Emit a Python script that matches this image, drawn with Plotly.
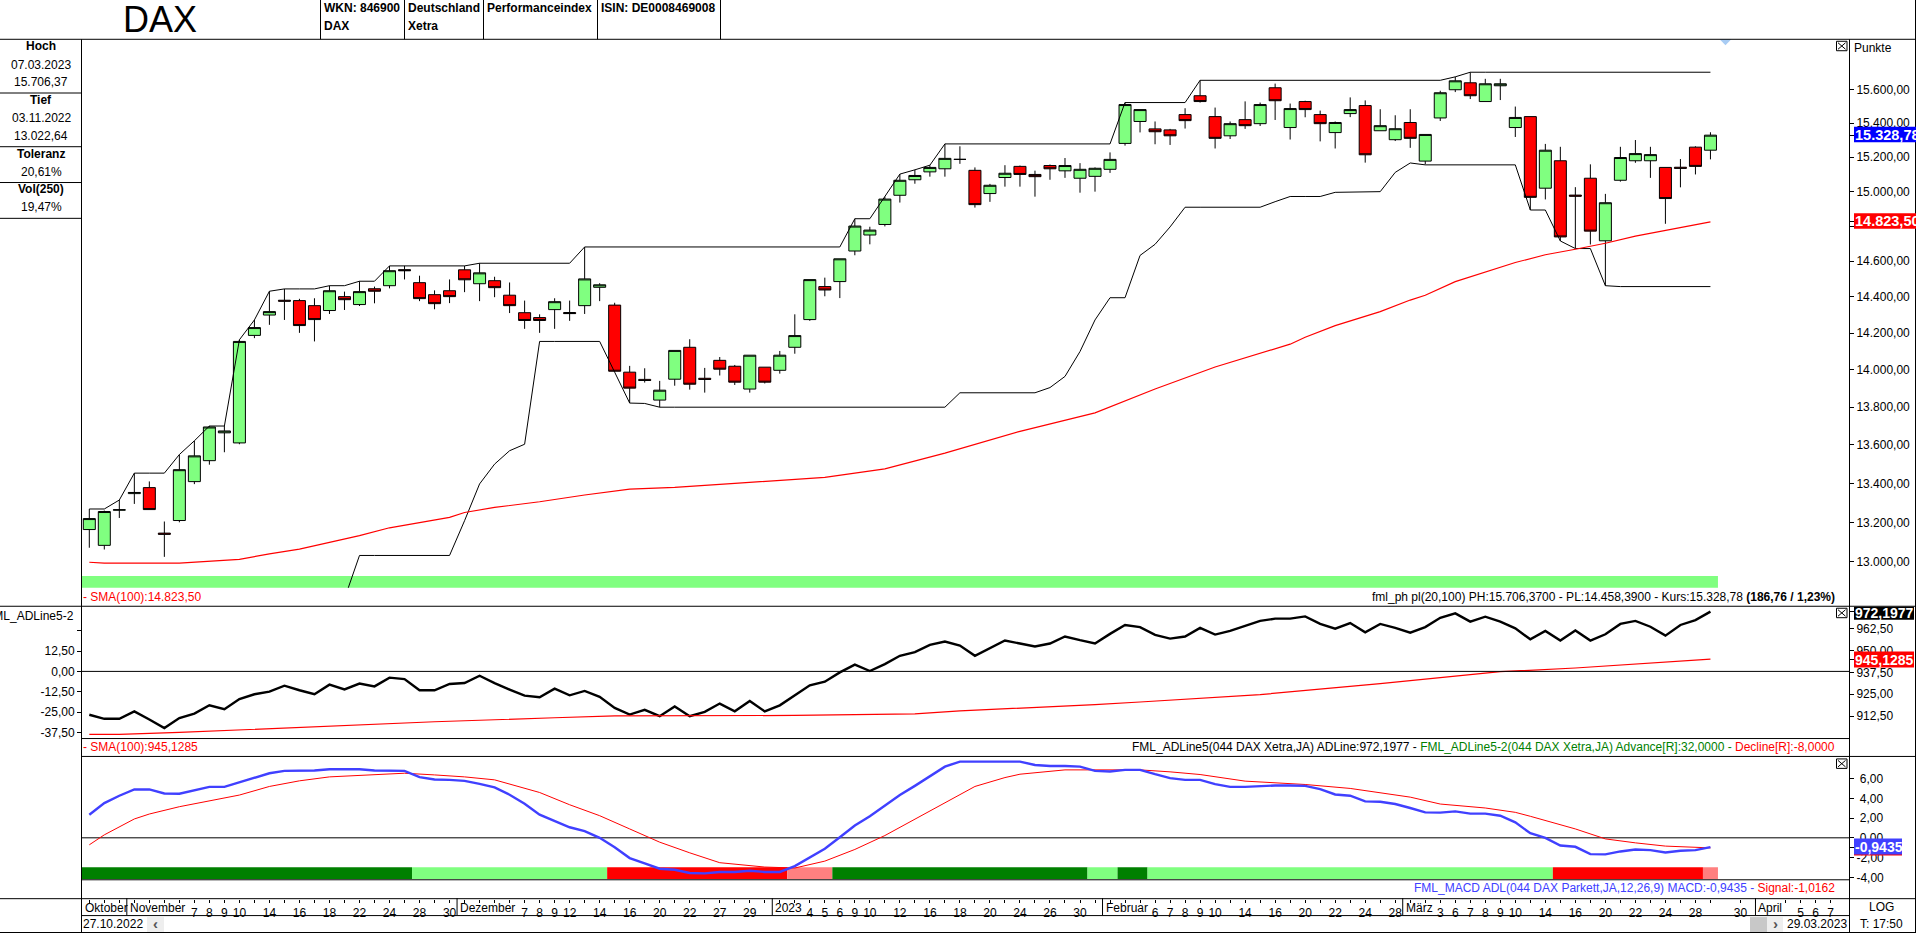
import plotly.graph_objects as go
import math

W, H = 1916, 938
FONT = "Liberation Sans, Arial, sans-serif"

# ---------- data ----------
opens = [13163,13083,13262,13347,13378,13145,13209,13409,13518,13664,13611,14188,14300,14382,14380,14352,14325,14402,14358,14446,
         14463,14553,14480,14413,14435,14552,14474,14491,14410,14313,14286,14330,14314,14352,14454,14355,13988,13949,13838,13950,
         14123,13955,14052,14020,13897,14015,13998,14123,14275,14458,14486,14658,14749,14809,14977,15067,15113,15131,15186,15122,
         14987,15080,15145,15098,15150,15119,15076,15087,15128,15280,15410,15366,15360,15451,15564,15439,15325,15421,15397,15612,
         15374,15529,15451,15344,15457,15505,15355,15302,15404,15176,15431,15600,15642,15529,15624,15374,15439,15018,15178,14978,
         15076,14716,15064,15178,15178,15139,15140,15258,15240]
highs = [13268,13260,13314,13453,13410,13204,13550,13622,13700,13700,14164,14273,14432,14445,14390,14393,14463,14430,14488,14458,
         14574,14574,14519,14437,14498,14574,14589,14513,14481,14380,14304,14393,14380,14681,14477,14368,14022,14009,13941,14106,
         14167,14011,14070,14027,14080,14015,14103,14304,14497,14508,14614,14842,14796,14970,15100,15125,15152,15277,15263,15139,
         15043,15152,15150,15120,15156,15194,15164,15139,15227,15523,15481,15410,15366,15489,15657,15493,15410,15530,15523,15637,
         15517,15534,15475,15410,15554,15536,15483,15447,15483,15333,15594,15678,15706,15666,15666,15499,15439,15277,15260,15024,
         15157,14985,15260,15300,15260,15139,15188,15263,15346]
lows = [13071,13062,13222,13294,13265,13025,13200,13396,13497,13562,13604,14173,14246,14273,14202,14155,14306,14328,14350,14365,
        14448,14498,14377,14332,14366,14427,14377,14399,14311,14224,14202,14224,14268,14306,14377,13993,13822,13932,13800,13915,
        13894,13878,13970,13919,13878,13927,13980,14088,14268,14404,14394,14634,14696,14798,14935,15044,15085,15085,15160,14906,
        14939,15027,15027,14969,15067,15078,14992,14998,15107,15267,15345,15275,15271,15368,15523,15250,15306,15366,15383,15419,
        15303,15435,15292,15250,15436,15167,15355,15294,15254,15157,15413,15586,15544,15529,15538,15318,14892,14953,14715,14672,
        14695,14463,15056,15166,15078,14813,15023,15098,15186]
closes = [13219,13255,13264,13353,13265,13139,13471,13543,13695,13674,14155,14231,14319,14377,14242,14275,14435,14385,14430,14432,
          14547,14547,14391,14363,14402,14496,14535,14452,14352,14270,14270,14374,14308,14501,14468,13993,13902,13943,13891,14106,
          13923,13949,14004,13934,14080,13934,14080,14187,14497,14439,14614,14800,14777,14955,15064,15092,15139,15192,15186,14923,
          15035,15105,15098,15085,15131,15150,15128,15134,15186,15511,15481,15349,15325,15415,15529,15310,15397,15385,15511,15534,
          15487,15481,15397,15404,15481,15213,15385,15367,15310,15333,15582,15654,15564,15636,15636,15434,14965,15240,14738,14972,
          14771,14934,15197,15220,15214,14958,15134,15145,15328.78]

upper_band = [13268,13268,13314,13453,13453,13453,13550,13622,13700,13700,14164,14273,14432,14445,14445,14445,14463,14463,14488,14488,
              14574,14574,14574,14574,14574,14574,14589,14589,14589,14589,14589,14589,14589,14681,14681,14681,14681,14681,14681,14681,
              14681,14681,14681,14681,14681,14681,14681,14681,14681,14681,14681,14842,14842,14970,15100,15125,15152,15277,15277,15277,
              15277,15277,15277,15277,15277,15277,15277,15277,15277,15523,15523,15523,15523,15523,15657,15657,15657,15657,15657,15657,
              15657,15657,15657,15657,15657,15657,15657,15657,15657,15657,15657,15678,15706,15706,15706,15706,15706,15706,15706,15706,
              15706,15706,15706,15706,15706,15706,15706,15706,15706]
lower_idx = list(range(17, 109))
lower_band = [12816,13032,13032,13032,13032,13032,13032,13032,13208,13397,13500,13570,13604,14155,14155,14155,14155,14155,13988,13822,
              13820,13800,13800,13800,13800,13800,13800,13800,13800,13800,13800,13800,13800,13800,13800,13800,13800,13800,13800,13800,
              13800,13877,13877,13877,13877,13877,13877,13905,13965,14100,14273,14396,14396,14633,14696,14795,14908,14908,14908,14908,
              14908,14908,14940,14970,14970,14970,14994,14996,14996,14998,15110,15165,15154,15154,15154,15154,15154,15154,15154,14892,
              14892,14715,14672,14672,14463,14458,14458,14458,14458,14458,14458,14458]
sma_idx = [0,1,6,10,12,14,18,20,24,25,27,30,33,36,39,41,43,49,53,57,62,67,71,75,80,81,83,86,88,89,91,95,97,99,101,103,105,108]
sma_val = [12998,12993,12993,13012,13040,13064,13132,13172,13225,13250,13276,13305,13340,13370,13379,13388,13400,13431,13475,13557,
           13672,13770,13897,14016,14140,14178,14242,14319,14383,14410,14486,14593,14637,14668,14702,14743,14775,14823.5]

adline = [913.3,911.0,911.0,915.2,910.6,905.7,911.4,914.0,918.7,916.5,922.3,925.0,926.5,929.9,927.3,925.0,930.5,927.8,931.1,929.5,
          934.5,933.7,927.3,927.3,930.9,931.4,935.6,931.4,927.7,924.2,923.3,928.2,924.4,926.9,923.5,917.2,913.4,916.1,912.5,918.0,
          912.5,915.0,919.7,915.3,921.2,915.2,918.7,924.6,930.1,932.2,937.5,941.9,938.3,942.2,947.0,949.1,953.2,955.1,952.8,947.0,
          951.3,955.7,954.0,952.3,954.0,958.0,955.9,954.0,959.5,964.6,963.4,958.9,956.8,958.0,962.9,959.1,961.2,964.0,966.9,968.2,
          968.2,969.5,965.2,962.5,965.7,960.4,965.2,962.9,960.2,963.4,968.7,971.2,966.5,969.3,966.5,962.7,956.4,961.2,955.7,961.4,
          955.7,959.3,965.2,966.9,963.6,958.5,964.6,967.4,972.2]
ad_sma_idx = [0,2,6,14,23,31,35,47,51,55,58,62,67,70,78,86,90,94,99,108]
ad_sma_val = [902.1,902.1,903.2,906.2,909.3,911.6,912.7,912.9,913.3,913.8,915.5,917.0,919.1,920.6,924.8,931.1,934.7,937.9,940.0,945.1]

macd = [2.34,3.52,4.26,4.90,4.90,4.49,4.46,4.79,5.16,5.16,5.60,6.07,6.54,6.78,6.81,6.81,6.94,6.94,6.94,6.81,
        6.81,6.78,6.14,5.90,5.87,5.77,5.47,5.10,4.36,3.45,2.34,1.74,1.07,0.67,0.0,-0.95,-2.05,-2.59,-3.13,-3.23,
        -3.56,-3.60,-3.46,-3.46,-3.33,-3.46,-3.46,-2.86,-1.99,-1.11,0.06,1.24,2.18,3.25,4.33,5.26,6.27,7.21,7.72,7.72,
        7.72,7.72,7.72,7.38,7.28,7.28,7.21,6.78,6.71,6.88,6.88,6.44,6.04,5.87,5.87,5.43,5.16,5.16,5.26,5.30,
        5.30,5.26,4.93,4.39,4.26,3.69,3.65,3.42,3.02,2.58,2.55,2.68,2.45,2.45,2.24,1.57,0.46,0.0,-0.78,-0.91,
        -1.65,-1.68,-1.38,-1.18,-1.25,-1.48,-1.31,-1.25,-0.94]
signal_idx = [0,1,3,4,6,10,12,14,16,18,21,23,25,27,30,32,34,36,38,40,42,45,47,49,51,53,55,58,59,61,62,65,67,70,72,74,77,81,84,86,88,90,93,95,96,99,101,103,105,108]
signal_val = [-0.71,0.30,1.91,2.41,3.15,4.33,5.20,5.77,6.17,6.34,6.54,6.37,6.17,5.87,4.59,3.35,2.24,0.90,-0.44,-1.52,-2.52,-2.96,-3.06,-2.36,-1.18,0.23,1.91,4.36,
              5.20,6.10,6.44,6.88,6.88,6.88,6.68,6.41,5.74,5.40,5.00,4.59,4.12,3.42,3.02,2.58,2.18,0.90,-0.11,-0.51,-0.84,-1.02]

regime_colors = ["#008000","#80FF80","#FF0000","#FF8080","#008000","#80FF80","#008000","#80FF80","#FF0000","#FF8080"]
regime_runs = [22,13,12,3,17,2,2,27,10,1]

price_ticks = [15600,15400,15200,15000,14800,14600,14400,14200,14000,13800,13600,13400,13200,13000,15328.78,14823.50]
price_labels = ["15.600,00","15.400,00","15.200,00","15.000,00","","14.600,00","14.400,00","14.200,00","14.000,00",
                "13.800,00","13.600,00","13.400,00","13.200,00","13.000,00","",""]
ad_ticks = [962.5,950,937.5,925,912.5,972.1977,945.1285]
ad_labels = ["962,50","950,00","937,50","925,00","912,50","",""]
adv_ticks = [25,12.5,0,-12.5,-25,-37.5]
adv_labels = ["","12,50","0,00","-12,50","-25,00","-37,50"]
macd_ticks = [6,4,2,0,-2,-4,-0.9435]
macd_labels = ["\u00a06,00","\u00a04,00","\u00a02,00","\u00a00,00","-2,00","-4,00",""]

day_label_idx = [7,8,9,10,12,14,16,18,20,22,24,29,30,31,32,34,36,38,40,42,44,48,49,50,51,52,54,56,58,60,62,64,66,
                 71,72,73,74,75,77,79,81,83,85,87,90,91,92,93,94,95,97,99,101,103,105,107,110,114,115,116]
day_labels = ["7","8","9","10","14","16","18","22","24","28","30","7","8","9","12","14","16","20","22","27","29","4","5","6","9","10","12","16","18","20","24","26","30",
              "6","7","8","9","10","14","16","20","22","24","28","3","6","7","8","9","10","14","16","20","22","24","28","30","5","6","7"]
day_tick_idx = list(range(0, 109)) + [110, 111, 113, 114, 115, 116]
month_names = ["November","Dezember","2023","Februar","März","April"]
month_idx = [2.5,24.5,45.5,67.5,87.5,111]

n = len(closes)
xs = list(range(n))
label_by_idx = dict(zip(day_label_idx, day_labels))

# ---------- helpers ----------
def px(x): return x / W
def py(y): return 1 - y / H

shapes, annos = [], []
def line(x0, y0, x1, y1, color="black", width=1):
    shapes.append(dict(type="line", xref="paper", yref="paper", x0=px(x0), x1=px(x1), y0=py(y0), y1=py(y1),
                       line=dict(color=color, width=width), layer="above"))
def rect(x0, y0, x1, y1, fill, lcolor=None, lw=0):
    shapes.append(dict(type="rect", xref="paper", yref="paper", x0=px(x0), x1=px(x1), y0=py(y0), y1=py(y1),
                       fillcolor=fill, line=dict(color=lcolor or fill, width=lw), layer="above"))
def text(x, y, s, anchor="left", size=12, color="black", bold=False):
    annos.append(dict(xref="paper", yref="paper", x=px(x), y=py(y), text=f"<b>{s}</b>" if bold else s,
                      xanchor=anchor, yanchor="middle", showarrow=False, borderpad=0, borderwidth=0,
                      font=dict(family=FONT, size=size, color=color)))
def closebox(x0, y0):
    rect(x0, y0, x0 + 10.5, y0 + 9.5, "white", "black", 1)
    line(x0 + 1.5, y0 + 1.5, x0 + 9, y0 + 8, "black", 1)
    line(x0 + 9, y0 + 1.5, x0 + 1.5, y0 + 8, "black", 1)

# ---------- traces ----------
fig = go.Figure()
fig.add_trace(go.Candlestick(x=xs, open=opens, high=highs, low=lows, close=closes, xaxis="x", yaxis="y",
                             increasing=dict(fillcolor="#80FF80", line=dict(color="black", width=1)),
                             decreasing=dict(fillcolor="#FF0000", line=dict(color="black", width=1)),
                             whiskerwidth=0, showlegend=False, hoverinfo="skip"))
fig.add_trace(go.Scatter(x=xs, y=upper_band, mode="lines", line=dict(color="black", width=1), yaxis="y", xaxis="x", showlegend=False, hoverinfo="skip"))
fig.add_trace(go.Scatter(x=lower_idx, y=lower_band, mode="lines", line=dict(color="black", width=1), yaxis="y", xaxis="x", showlegend=False, hoverinfo="skip"))
fig.add_trace(go.Scatter(x=sma_idx, y=sma_val, mode="lines", line=dict(color="#FF0000", width=1.2), yaxis="y", xaxis="x", showlegend=False, hoverinfo="skip"))
fig.add_trace(go.Scatter(x=[109], y=[15907], mode="markers", marker=dict(symbol="diamond", size=9, color="#A8CCF4"), yaxis="y", xaxis="x", showlegend=False, hoverinfo="skip"))

fig.add_trace(go.Scatter(x=[-1, 118], y=[0, 0], mode="lines", line=dict(color="black", width=1), yaxis="y3", xaxis="x", showlegend=False, hoverinfo="skip"))
fig.add_trace(go.Scatter(x=xs, y=adline, mode="lines", line=dict(color="black", width=2.4), yaxis="y2", xaxis="x", showlegend=False, hoverinfo="skip"))
fig.add_trace(go.Scatter(x=ad_sma_idx, y=ad_sma_val, mode="lines", line=dict(color="#FF0000", width=1.2), yaxis="y2", xaxis="x", showlegend=False, hoverinfo="skip"))

run_centers, pos = [], 0
for r in regime_runs:
    run_centers.append(pos + (r - 1) / 2)
    pos += r
fig.add_trace(go.Bar(x=run_centers, y=[1.22] * len(regime_runs), base=-4.2, width=regime_runs,
                     marker=dict(color=regime_colors, line=dict(width=0)),
                     yaxis="y4", xaxis="x", showlegend=False, hoverinfo="skip"))
fig.add_trace(go.Scatter(x=[-1, 118], y=[0, 0], mode="lines", line=dict(color="black", width=1), yaxis="y4", xaxis="x", showlegend=False, hoverinfo="skip"))
fig.add_trace(go.Scatter(x=signal_idx, y=signal_val, mode="lines", line=dict(color="#FF0000", width=1), yaxis="y4", xaxis="x", showlegend=False, hoverinfo="skip"))
fig.add_trace(go.Scatter(x=xs, y=macd, mode="lines", line=dict(color="#4040FF", width=2.4), yaxis="y4", xaxis="x", showlegend=False, hoverinfo="skip"))

# top green strip (one rectangle on the shared x scale)
shapes.append(dict(type="rect", xref="x", yref="paper", x0=-0.5, x1=108.5, y0=py(591), y1=py(579),
                   fillcolor="#80FF80", line=dict(width=0), layer="below"))
# month separators on the date band
for m in month_idx:
    shapes.append(dict(type="line", xref="x", yref="paper", x0=m, x1=m, y0=py(903), y1=py(920),
                       line=dict(color="black", width=1), layer="above"))

# ---------- frame ----------
line(0, 39.5, 1916, 39.5)
line(0, 609.5, 1916, 609.5)
line(82, 742.5, 1849, 742.5)
line(82, 760.5, 1916, 760.5)
line(82, 884.5, 1849, 884.5)
line(0, 903.5, 1916, 903.5)
line(82, 920.5, 1849, 920.5)
line(0, 937.5, 1916, 937.5)
line(81.5, 39.5, 81.5, 937.5)
line(1849.5, 39.5, 1849.5, 937.5)
line(1915.5, 0, 1915.5, 938)
for xv in [320.5, 404.5, 483.5, 597.5, 720.5]:
    line(xv, 0, xv, 39.5)
for yv in [93.5, 147.5, 183.5, 219.5]:
    line(0, yv, 81.5, yv)

closebox(1836.5, 41.5)
closebox(1836.5, 611.5)
closebox(1836.5, 763)

# header
text(160, 19.5, "DAX", "center", 36)
text(324, 8.5, "WKN: 846900", bold=True)
text(324, 26.5, "DAX", bold=True)
text(408, 8.5, "Deutschland", bold=True)
text(408, 26.5, "Xetra", bold=True)
text(487, 8.5, "Performanceindex", bold=True)
text(601, 8.5, "ISIN: DE0008469008", bold=True)

# left info column
for y, s, b in [(46.5, "Hoch", True), (65, "07.03.2023", False), (82.5, "15.706,37", False),
                (100.5, "Tief", True), (118.5, "03.11.2022", False), (136.5, "13.022,64", False),
                (154.5, "Toleranz", True), (172.5, "20,61%", False),
                (190.5, "Vol(250)", True), (208.5, "19,47%", False)]:
    text(41, y, s, "center", bold=b)
text(74, 619, "FML_ADLine5-2", "right")

# panel captions
text(83, 599.7, "- SMA(100):14.823,50", color="#FF0000")
text(1835, 600, "fml_ph pl(20,100) PH:15.706,3700 - PL:14.458,3900 - Kurs:15.328,78 <b>(186,76 / 1,23%)</b>", "right")
text(83, 751, "- SMA(100):945,1285", color="#FF0000")
text(1835, 751, "FML_ADLine5(044 DAX Xetra,JA) ADLine:972,1977 - "
     "<span style='color:#008000'>FML_ADLine5-2(044 DAX Xetra,JA) Advance[R]:32,0000 - </span>"
     "<span style='color:#FF0000'>Decline[R]:-8,0000</span>", "right")
text(1835, 892.7, "<span style='color:#4040FF'>FML_MACD ADL(044 DAX Parkett,JA,12,26,9) MACD:-0,9435 - </span>"
     "<span style='color:#FF0000'>Signal:-1,0162</span>", "right")
text(1854, 48.5, "Punkte")

# value badges
rect(1854, 127.5, 1916, 143, "#0000FF")
text(1854.5, 135.5, "15.328,78", size=14.5, color="white", bold=True)
rect(1854, 214.5, 1916, 230, "#FF0000")
text(1854.5, 222.5, "14.823,50", size=14.5, color="white", bold=True)
rect(1854, 610, 1914, 623, "black")
text(1855, 616, "972,1977", size=14, color="white", bold=True)
rect(1854, 655, 1914, 671, "#FF0000")
text(1855, 663.3, "945,1285", size=14, color="white", bold=True)
rect(1854, 844, 1902, 860, "#FF0000")
rect(1854, 843, 1902, 859, "#4040FF")
text(1855, 851.3, "-0,9435", size=14, color="white", bold=True)

# date band
annos.append(dict(xref="x", yref="paper", x=-0.486, y=py(912.7), text="Oktober", xanchor="left", yanchor="middle", xshift=1,
                  showarrow=False, font=dict(family=FONT, size=12, color="black")))
for m, s in zip(month_idx, month_names):
    annos.append(dict(xref="x", yref="paper", x=m, y=py(912.7), text=s, xanchor="left", yanchor="middle", xshift=1,
                      showarrow=False, font=dict(family=FONT, size=12, color="black")))
text(83, 929, "27.10.2022")
rect(147, 922, 164, 937, "#EEEEEE")
text(155.5, 928.5, "‹", "center", 15, "#555555", True)
rect(1750, 922, 1767, 937, "#C8C8C8")
rect(1767, 922, 1783, 937, "#EEEEEE")
text(1775.5, 928.5, "›", "center", 15, "#555555", True)
text(1847, 929, "29.03.2023", "right")
text(1881, 911.7, "LOG", "center")
text(1881, 929, "T: 17:50", "center")

# ---------- axes ----------
axcommon = dict(showgrid=False, zeroline=False, showline=False, ticks="outside", ticklen=4, tickwidth=1, tickcolor="black",
                tickfont=dict(family=FONT, size=12, color="black"), tickmode="array", fixedrange=True)
fig.update_layout(
    width=W, height=H, margin=dict(l=0, r=0, t=0, b=0, pad=0), autosize=False,
    paper_bgcolor="white", plot_bgcolor="white", showlegend=False, boxmode="overlay", boxgap=0.2, boxgroupgap=0, barmode="overlay",
    shapes=shapes, annotations=annos,
    xaxis=dict(domain=[px(82), px(1849)], range=[-0.486, 117.23], anchor="free", position=py(903.5),
               showgrid=False, zeroline=False, showline=False, ticks="outside", ticklen=3, tickwidth=1, tickcolor="black",
               tickmode="array", tickvals=day_tick_idx, ticktext=[label_by_idx.get(i, "") for i in day_tick_idx],
               tickangle=0, tickfont=dict(family=FONT, size=12, color="black"), rangeslider=dict(visible=False), fixedrange=True),
    yaxis=dict(axcommon, domain=[py(591), py(39.5)], type="log", range=[math.log10(12870), math.log10(15907)], side="right",
               anchor="x", tickvals=price_ticks, ticktext=price_labels),
    yaxis2=dict(axcommon, domain=[py(742), py(609.3)], range=[900, 975.4], side="right", anchor="x",
                tickvals=ad_ticks, ticktext=ad_labels),
    yaxis3=dict(axcommon, domain=[py(742), py(609.3)], range=[-40.85, 40.06], side="left", anchor="x", overlaying="y2",
                tickvals=adv_ticks, ticktext=adv_labels),
    yaxis4=dict(axcommon, domain=[py(884), py(760.3)], range=[-4.2, 8.26], side="right", anchor="x",
                tickvals=macd_ticks, ticktext=macd_labels),
)
fig.write_html("out.html", config=dict(displayModeBar=False),
               post_script="document.body.style.margin='0';document.documentElement.style.overflow='hidden';")
